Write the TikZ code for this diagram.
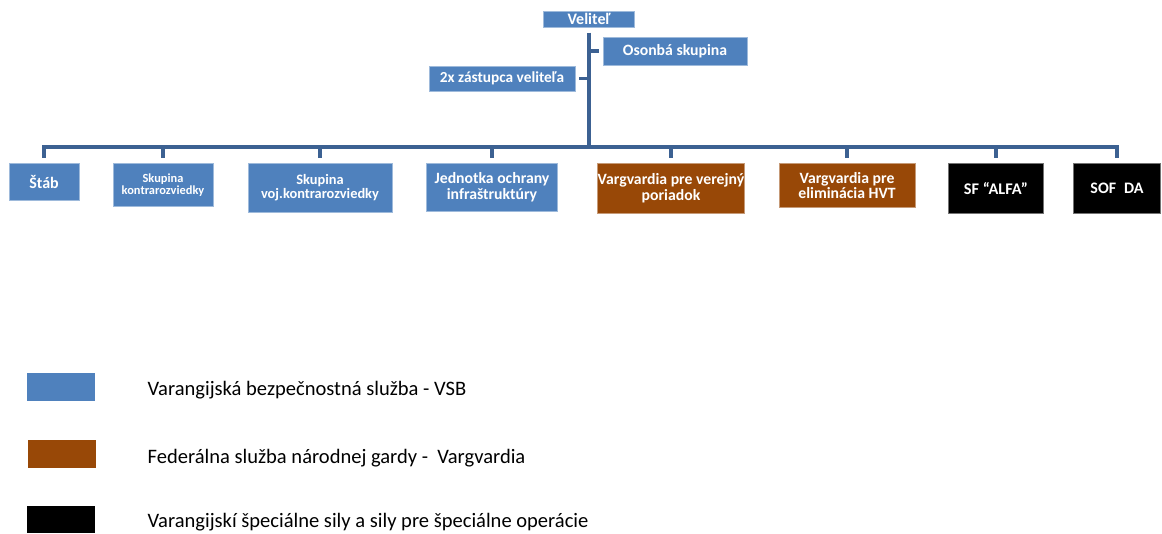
\documentclass[tikz,border=0pt]{standalone}
\usepackage{fontspec}
\setmainfont{Carlito}
\usetikzlibrary{calc}

\definecolor{vsbblue}{HTML}{4F81BD}
\definecolor{vargbrown}{HTML}{984807}
\definecolor{linkblue}{HTML}{3C6192}

\newdimen\unitpx
\unitpx=0.75pt
\newcommand{\boxfont}[1]{\bfseries\fontsize{#1}{#1}\selectfont}

\begin{document}
\begin{tikzpicture}[x=0.75pt,y=-0.75pt,
    unit/.style={draw=#1!55!white,fill=#1,text=white,align=center,
      inner sep=0pt,line width=0.6pt},
    link/.style={draw=linkblue,line width=2.6pt}]
    \useasboundingbox (0,0) rectangle (1162,533);

    % top level
    \node[unit=vsbblue,minimum width=91\unitpx,minimum height=16\unitpx,
      font=\boxfont{12}] (velitel) at (589,19) {Veliteľ};
    \node[unit=vsbblue,minimum width=144\unitpx,minimum height=28\unitpx,
      font=\boxfont{11.8}] (osobna) at (675,51) {Osonbá skupina};
    \node[unit=vsbblue,minimum width=146\unitpx,minimum height=25\unitpx,
      font=\boxfont{11.5}] (zastupca) at (502,78.5) {2x zástupca veliteľa};

    \coordinate (bus) at (589,147);
    \draw[link,shorten <=4pt] (velitel.south) -- (bus);
    \draw[link,shorten <=3pt] (osobna.west) -- (osobna.west -| bus);
    \draw[link,shorten <=3pt] (zastupca.east) -- (zastupca.east -| bus);

    % second level
    \node[unit=vsbblue,anchor=north,minimum width=70\unitpx,minimum height=37\unitpx,
      font=\boxfont{12}] (stab) at (44,163) {Štáb};
    \node[unit=vsbblue,anchor=north,minimum width=100\unitpx,minimum height=43\unitpx,
      font=\boxfont{9.3}] (kontra) at (163,163) {Skupina\\kontrarozviedky};
    \node[unit=vsbblue,anchor=north,minimum width=144\unitpx,minimum height=49\unitpx,
      font=\boxfont{10.8}] (vojkontra) at (320,163) {Skupina\\voj.kontrarozviedky};
    \node[unit=vsbblue,anchor=north,minimum width=131\unitpx,minimum height=48\unitpx,
      font=\boxfont{11.8}] (ochrana) at (492,163) {Jednotka ochrany\\infraštruktúry};
    \node[unit=vargbrown,anchor=north,minimum width=147\unitpx,minimum height=50\unitpx,
      font=\boxfont{11.8}] (poriadok) at (671,163) {Vargvardia pre verejný\\poriadok};
    \node[unit=vargbrown,anchor=north,minimum width=136\unitpx,minimum height=44\unitpx,
      font=\boxfont{11.8}] (hvt) at (847,163) {Vargvardia pre\\eliminácia HVT};
    \node[unit=black,anchor=north,minimum width=95\unitpx,minimum height=50\unitpx,
      font=\boxfont{12.2}] (alfa) at (996,163) {SF “ALFA”};
    \node[unit=black,anchor=north,minimum width=87\unitpx,minimum height=50\unitpx,
      font=\boxfont{12}] (sofda) at (1117,163) {SOF\enspace DA};

    \foreach \u in {stab,kontra,vojkontra,ochrana,poriadok,hvt,alfa,sofda}
      \draw[link,shorten >=3.5pt] (bus) -| (\u.north);

    % legend
    \node[fill=vsbblue,minimum width=68\unitpx,minimum height=28\unitpx,inner sep=0pt]
      (keyvsb) at (61,387) {};
    \node[fill=vargbrown,minimum width=68\unitpx,minimum height=28\unitpx,inner sep=0pt]
      (keyvarg) at (62,454) {};
    \node[fill=black,minimum width=68\unitpx,minimum height=27\unitpx,inner sep=0pt]
      (keysf) at (61,519.5) {};
    \node[anchor=west,font=\fontsize{15.4}{16}\selectfont] (txtvsb) at (143,390)
      {Varangijská bezpečnostná služba - VSB};
    \node[anchor=west,font=\fontsize{15.4}{16}\selectfont] (txtvarg) at (143,458)
      {Federálna služba národnej gardy -\ \ Vargvardia};
    \node[anchor=west,font=\fontsize{15.4}{16}\selectfont] (txtsf) at (143,522)
      {Varangijskí špeciálne sily a sily pre špeciálne operácie};
\end{tikzpicture}
\end{document}
